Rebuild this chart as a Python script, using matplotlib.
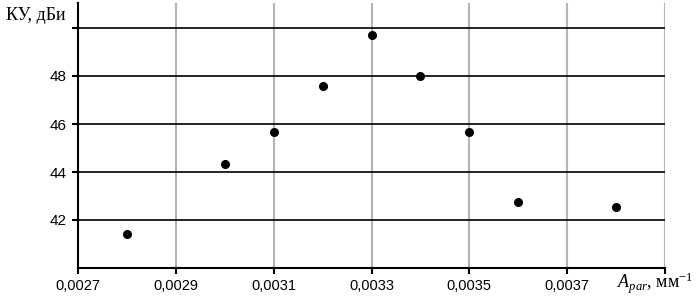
import matplotlib.pyplot as plt

plt.rcParams['mathtext.fontset'] = 'custom'
plt.rcParams['mathtext.it'] = 'Liberation Serif:italic'
plt.rcParams['mathtext.rm'] = 'Liberation Serif'

# Data
a_par = [0.0028, 0.0030, 0.0031, 0.0032, 0.0033, 0.0034, 0.0035, 0.0036, 0.0038]
gain = [41.42, 44.33, 45.65, 47.6, 49.7, 48.0, 45.65, 42.75, 42.55]

x_ticks = [0.0027, 0.0029, 0.0031, 0.0033, 0.0035, 0.0037, 0.0039]
y_ticks = [42, 44, 46, 48, 50]
y_labels = ['42', '44', '46', '48', '']

fig = plt.figure(figsize=(6.97, 2.99), dpi=100)
ax = fig.add_axes([78 / 697, 1 - 268 / 299, (665 - 78) / 697, 265 / 299])

ax.set_xlim(0.0027, 0.0039)
ax.set_ylim(40, 40 + 265 / 24)

# grid: grey verticals, black horizontals
for xv in x_ticks[1:]:
    ax.axvline(xv, color='#b4b4b4', lw=1.5, zorder=1)
for yv in y_ticks:
    ax.axhline(yv, color='black', lw=1.2, zorder=1)

ax.plot(a_par, gain, 'o', color='black', markersize=5.5, zorder=3)

ax.spines['top'].set_visible(False)
ax.spines['right'].set_visible(False)
ax.spines['left'].set_linewidth(1.5)
ax.spines['bottom'].set_linewidth(1.5)

ax.set_xticks(x_ticks)
ax.set_xticklabels([f'{v:.4f}'.replace('.', ',') for v in x_ticks[:-1]] + [''])
ax.set_yticks(y_ticks)
ax.set_yticklabels(y_labels)
ax.tick_params(axis='both', direction='out', length=4, width=1.5,
               labelsize=10.5, pad=4)
ax.tick_params(axis='y', labelsize=11)
for lbl in ax.get_xticklabels() + ax.get_yticklabels():
    lbl.set_family('Liberation Sans')

fig.text(6 / 697, 1 - 16 / 299, 'КУ, дБи', family='Liberation Serif',
         fontsize=13, ha='left', va='center')
fig.text(617 / 697, 1 - 283 / 299, r'$\mathit{A}_{\mathit{par}}$' + ', мм$^{-1}$',
         family='Liberation Serif', fontsize=13, ha='left', va='center')

plt.savefig('out.png', dpi=100)
